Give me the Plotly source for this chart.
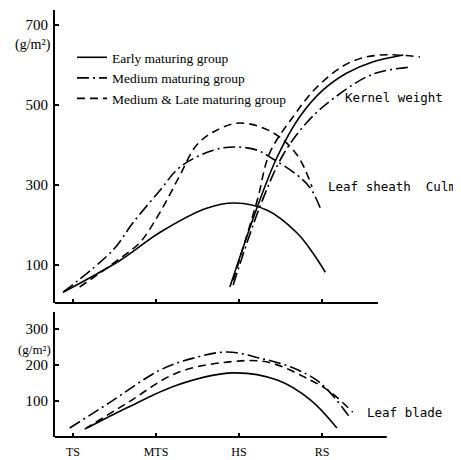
import plotly.graph_objects as go

# ---------------- data ----------------
stages = ["TS", "MTS", "HS", "RS"]
stage_pos = [0, 1, 2, 3]

group_names = ["Early maturing group", "Medium maturing group", "Medium & Late maturing group"]

# Leaf sheath + Culm (top panel, g/m2)
early_culm_x = [-0.12, 0.57, 1.05, 1.61, 1.95, 2.34, 2.70, 2.89, 3.04]
early_culm_y = [32, 112, 182, 242, 255, 237, 180, 130, 82]
medium_culm_x = [-0.12, 0.48, 0.72, 1.05, 1.29, 1.69, 1.95, 2.22, 2.41, 2.70, 2.86, 2.98]
medium_culm_y = [32, 137, 205, 287, 345, 387, 395, 387, 365, 325, 292, 242]
late_culm_x = [0.08, 0.57, 0.81, 1.00, 1.13, 1.29, 1.49, 1.73, 2.01, 2.40, 2.70, 2.88]
late_culm_y = [45, 117, 157, 215, 262, 325, 400, 437, 455, 432, 375, 295]

# Kernel weight (top panel, g/m2)
early_kernel_x = [1.89, 2.22, 2.46, 2.73, 3.01, 3.30, 3.60, 3.98]
early_kernel_y = [45, 245, 370, 470, 537, 580, 607, 625]
medium_kernel_x = [1.93, 2.25, 2.53, 2.82, 3.13, 3.61, 4.08]
medium_kernel_y = [50, 245, 375, 457, 515, 577, 595]
late_kernel_x = [1.93, 2.22, 2.37, 2.65, 2.94, 3.34, 3.70, 4.18]
late_kernel_y = [62, 262, 380, 470, 545, 607, 625, 620]

# Leaf blade (bottom panel, g/m2)
early_blade_x = [0.17, 0.65, 1.25, 1.93, 2.46, 2.86, 3.18]
early_blade_y = [25, 81, 144, 178, 158, 103, 25]
medium_blade_x = [-0.04, 0.45, 1.05, 1.45, 1.86, 2.25, 2.65, 2.98, 3.34]
medium_blade_y = [25, 97, 186, 219, 236, 219, 192, 150, 53]
late_blade_x = [0.14, 0.65, 1.25, 1.86, 2.34, 2.86, 3.10, 3.37]
late_blade_y = [22, 94, 178, 208, 208, 158, 125, 69]

top_ticks = [100, 300, 500, 700]
bottom_ticks = [100, 200, 300]

# ---------------- styling ----------------
styles = [
    dict(color="black", width=1.6, dash="solid"),
    dict(color="black", width=1.6, dash="12px,4px,2px,4px"),
    dict(color="black", width=1.6, dash="8px,5px"),
]
serif = "Liberation Serif"
mono = "DejaVu Sans Mono"

fig = go.Figure()

top_series = [
    [(early_culm_x, early_culm_y), (early_kernel_x, early_kernel_y)],
    [(medium_culm_x, medium_culm_y), (medium_kernel_x, medium_kernel_y)],
    [(late_culm_x, late_culm_y), (late_kernel_x, late_kernel_y)],
]
bottom_series = [
    (early_blade_x, early_blade_y),
    (medium_blade_x, medium_blade_y),
    (late_blade_x, late_blade_y),
]

for i, name in enumerate(group_names):
    for j, (xs, ys) in enumerate(top_series[i]):
        fig.add_trace(go.Scatter(
            x=xs, y=ys, mode="lines", name=name, legendgroup=name,
            showlegend=(j == 0), line=dict(shape="spline", smoothing=1.0, **styles[i]),
            xaxis="x", yaxis="y", hoverinfo="skip"))
    xs, ys = bottom_series[i]
    fig.add_trace(go.Scatter(
        x=xs, y=ys, mode="lines", name=name, legendgroup=name, showlegend=False,
        line=dict(shape="spline", smoothing=1.0, **styles[i]),
        xaxis="x2", yaxis="y2", hoverinfo="skip"))

xr = [-0.217, 4.482]
common_x = dict(range=xr, showline=False, showgrid=False, zeroline=False,
                tickvals=stage_pos, ticks="inside", ticklen=4, tickwidth=1.5,
                tickcolor="black")
common_y = dict(showline=True, linewidth=2, linecolor="black", showgrid=False,
                zeroline=False, ticks="inside", ticklen=4, tickwidth=1.5,
                tickcolor="black", tickfont=dict(family=serif, size=15, color="black"),
                ticklabelstandoff=2)

# page body has an 8px margin, so the figure is 8px smaller than the window
fig.update_layout(
    width=453, height=452,
    margin=dict(l=47, r=16, t=2, b=23),
    paper_bgcolor="white", plot_bgcolor="white",
    xaxis=dict(domain=[0, 1], anchor="y", showticklabels=False, **common_x),
    yaxis=dict(domain=[0.3138, 1], anchor="x", range=[5, 737.5], tickvals=top_ticks, **common_y),
    xaxis2=dict(domain=[0, 1], anchor="y2", ticktext=stages, showticklabels=True,
                tickfont=dict(family=serif, size=12, color="black"), ticklabelstandoff=6,
                **common_x),
    yaxis2=dict(domain=[0, 0.2927], anchor="x2", range=[0, 347], tickvals=bottom_ticks, **common_y),
    legend=dict(x=0.0436, y=0.925, xanchor="left", yanchor="top",
                bgcolor="rgba(0,0,0,0)", tracegroupgap=0,
                font=dict(family=serif, size=13.5, color="black")),
    showlegend=True,
    shapes=[
        dict(type="line", xref="x", yref="y domain", x0=xr[0], x1=3.675, y0=0, y1=0,
             line=dict(color="black", width=2)),
        dict(type="line", xref="x2", yref="y2 domain", x0=xr[0], x1=3.78, y0=0, y1=0,
             line=dict(color="black", width=2)),
    ],
    annotations=[
        dict(text="Kernel weight", x=3.25, y=520, xref="x", yref="y", xanchor="left",
             yanchor="middle", showarrow=False, font=dict(family=mono, size=12.5, color="black")),
        dict(text="Leaf sheath \u00a0Culm", x=3.05, y=297, xref="x", yref="y", xanchor="left",
             yanchor="middle", showarrow=False, font=dict(family=mono, size=12.5, color="black")),
        dict(text="Leaf blade", x=3.52, y=67, xref="x2", yref="y2", xanchor="left",
             yanchor="middle", showarrow=False, font=dict(family=mono, size=12.5, color="black")),
        dict(text="(g/m²)", x=-0.005, y=650, xref="paper", yref="y", xanchor="right",
             yanchor="middle", showarrow=False, font=dict(family=serif, size=14, color="black")),
        dict(text="(g/m²)", x=-0.005, y=243, xref="paper", yref="y2", xanchor="right",
             yanchor="middle", showarrow=False, font=dict(family=serif, size=13, color="black")),
    ],
)

fig.write_html("out.html")
